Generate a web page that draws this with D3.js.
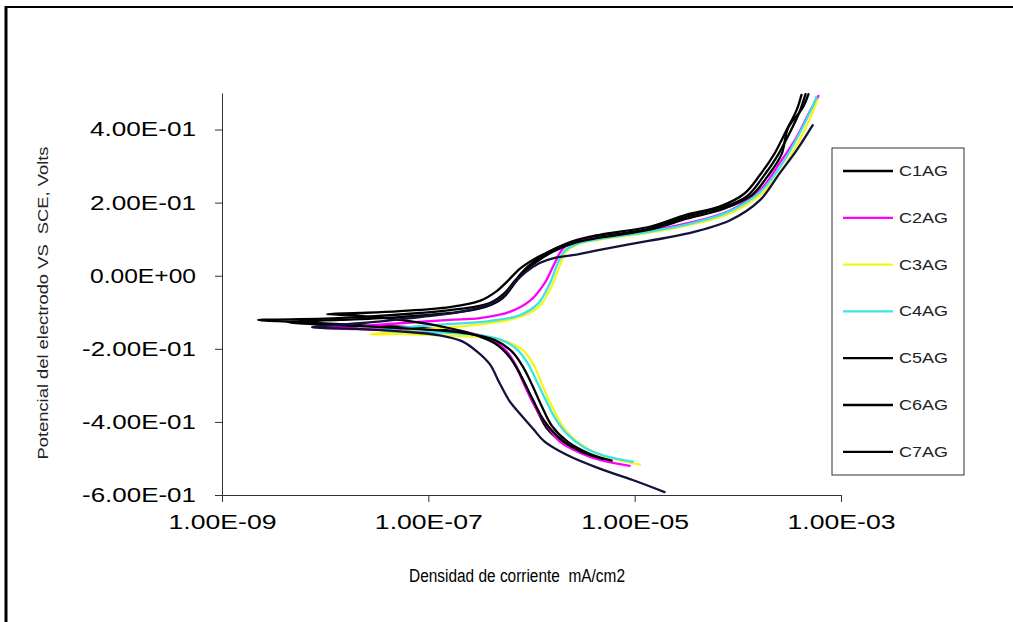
<!DOCTYPE html>
<html>
<head>
<meta charset="utf-8">
<script src="https://cdn.jsdelivr.net/npm/d3@7"></script>
<style>
  html, body { margin: 0; background: #fff; overflow: hidden; }
  svg { display: block; font-family: Arial, "Liberation Sans", sans-serif; }
</style>
</head>
<body>
<svg id="chart" width="1013" height="622"></svg>
<script>
// series names and line colours
const seriesNames = ["C1AG", "C2AG", "C3AG", "C4AG", "C5AG", "C6AG", "C7AG"];
const seriesColors = ["#000000", "#ff00ff", "#f5f51e", "#3de3e3", "#000000", "#000000", "#12123a"];

// axis ticks
const xTicks = [1e-9, 1e-7, 1e-5, 1e-3];
const yTicks = [-0.6, -0.4, -0.2, 0, 0.2, 0.4];

// [current density mA/cm2, potential V]  cathodic branch -> Ecorr -> anodic branch
const c1ag = [
    [5.36e-6, -0.504], [3.28e-6, -0.487], [2.10e-6, -0.460], [1.44e-6, -0.421], [1.15e-6, -0.372],
    [9.20e-7, -0.317], [7.36e-7, -0.256], [5.64e-7, -0.207], [3.77e-7, -0.174], [2.02e-7, -0.154],
    [8.28e-8, -0.143], [2.17e-8, -0.135], [5.69e-9, -0.127], [2.23e-9, -0.121],
    [5.69e-9, -0.119], [2.17e-8, -0.113], [8.28e-8, -0.102], [2.02e-7, -0.091], [3.94e-7, -0.075],
    [5.51e-7, -0.047], [6.89e-7, -0.014], [8.99e-7, 0.022], [1.20e-6, 0.049], [1.68e-6, 0.074],
    [2.62e-6, 0.093], [4.58e-6, 0.107], [1.40e-5, 0.129], [3.19e-5, 0.162], [6.65e-5, 0.184],
    [1.22e-4, 0.217], [1.74e-4, 0.269], [2.37e-4, 0.324], [3.17e-4, 0.390], [3.96e-4, 0.448],
    [4.53e-4, 0.497]
];
const c2ag = [
    [8.95e-6, -0.520], [4.58e-6, -0.504], [2.93e-6, -0.484], [1.88e-6, -0.454], [1.44e-6, -0.413],
    [1.20e-6, -0.380], [9.62e-7, -0.330], [8.22e-7, -0.289], [6.89e-7, -0.240], [5.51e-7, -0.201],
    [3.94e-7, -0.171], [2.52e-7, -0.157], [1.29e-7, -0.152], [5.30e-8, -0.149], [2.17e-8, -0.146],
    [8.89e-9, -0.143],
    [2.17e-8, -0.138], [5.30e-8, -0.130], [1.61e-7, -0.121], [3.15e-7, -0.116], [6.15e-7, -0.099],
    [9.62e-7, -0.069], [1.34e-6, -0.020], [1.68e-6, 0.035], [2.01e-6, 0.074], [2.62e-6, 0.093],
    [4.58e-6, 0.104], [1.40e-5, 0.123], [3.19e-5, 0.143], [8.32e-5, 0.178], [1.63e-4, 0.233],
    [2.54e-4, 0.308], [3.71e-4, 0.379], [4.95e-4, 0.448], [6.05e-4, 0.492]
];
const c3ag = [
    [1.12e-5, -0.517], [5.73e-6, -0.498], [3.66e-6, -0.476], [2.45e-6, -0.441], [1.88e-6, -0.399],
    [1.50e-6, -0.344], [1.29e-6, -0.303], [1.03e-6, -0.240], [8.05e-7, -0.201], [5.51e-7, -0.179],
    [3.15e-7, -0.168], [1.29e-7, -0.163], [5.30e-8, -0.160], [2.71e-8, -0.160],
    [5.30e-8, -0.152], [1.61e-7, -0.141], [3.94e-7, -0.130], [7.69e-7, -0.113], [1.20e-6, -0.083],
    [1.57e-6, -0.028], [1.88e-6, 0.027], [2.19e-6, 0.068], [2.93e-6, 0.088], [4.58e-6, 0.099],
    [1.40e-5, 0.118], [3.19e-5, 0.137], [8.32e-5, 0.170], [1.63e-4, 0.220], [2.65e-4, 0.288],
    [3.96e-4, 0.371], [5.18e-4, 0.440], [5.92e-4, 0.481]
];
const c4ag = [
    [9.57e-6, -0.509], [5.12e-6, -0.493], [3.28e-6, -0.471], [2.19e-6, -0.432], [1.68e-6, -0.388],
    [1.37e-6, -0.339], [1.15e-6, -0.295], [9.20e-7, -0.240], [7.19e-7, -0.201], [4.93e-7, -0.174],
    [2.52e-7, -0.160], [1.03e-7, -0.154], [4.74e-8, -0.152], [3.60e-8, -0.150],
    [5.30e-8, -0.143], [1.61e-7, -0.132], [3.94e-7, -0.124], [7.69e-7, -0.108], [1.15e-6, -0.077],
    [1.50e-6, -0.022], [1.79e-6, 0.033], [2.10e-6, 0.068], [2.81e-6, 0.088], [4.58e-6, 0.101],
    [1.40e-5, 0.121], [3.19e-5, 0.140], [8.32e-5, 0.176], [1.63e-4, 0.228], [2.59e-4, 0.299],
    [3.79e-4, 0.379], [4.95e-4, 0.445], [5.79e-4, 0.489]
];
const c5ag = [
    [4.90e-6, -0.501], [3.07e-6, -0.482], [1.96e-6, -0.449], [1.34e-6, -0.399], [1.03e-6, -0.339],
    [8.05e-7, -0.278], [6.15e-7, -0.223], [4.41e-7, -0.185], [2.52e-7, -0.157], [1.29e-7, -0.138],
    [5.30e-8, -0.121], [2.17e-8, -0.110], [1.04e-8, -0.105],
    [2.17e-8, -0.102], [5.30e-8, -0.097], [1.61e-7, -0.086], [3.15e-7, -0.069], [4.60e-7, -0.042],
    [5.89e-7, -0.014], [7.69e-7, 0.019], [1.07e-6, 0.046], [1.61e-6, 0.071], [2.62e-6, 0.096],
    [4.58e-6, 0.112], [1.40e-5, 0.134], [3.19e-5, 0.167], [6.65e-5, 0.189], [1.16e-4, 0.225],
    [1.63e-4, 0.275], [2.22e-4, 0.330], [2.96e-4, 0.398], [3.71e-4, 0.453], [4.14e-4, 0.495]
];
const c6ag = [
    [5.98e-6, -0.506], [3.66e-6, -0.487], [2.24e-6, -0.454], [1.57e-6, -0.410], [1.26e-6, -0.358],
    [1.03e-6, -0.303], [8.22e-7, -0.248], [6.44e-7, -0.207], [4.41e-7, -0.176], [2.25e-7, -0.157],
    [8.28e-8, -0.146], [2.17e-8, -0.138], [4.36e-9, -0.127],
    [1.39e-8, -0.121], [5.30e-8, -0.113], [1.61e-7, -0.102], [3.52e-7, -0.086], [5.27e-7, -0.061],
    [6.58e-7, -0.028], [8.22e-7, 0.008], [1.12e-6, 0.038], [1.61e-6, 0.066], [2.62e-6, 0.090],
    [4.58e-6, 0.104], [1.40e-5, 0.126], [3.19e-5, 0.156], [7.45e-5, 0.184], [1.36e-4, 0.220],
    [1.94e-4, 0.272], [2.65e-4, 0.332], [3.07e-4, 0.404], [4.24e-4, 0.459], [4.84e-4, 0.497]
];
const c7ag = [
    [1.95e-5, -0.592], [9.57e-6, -0.559], [4.58e-6, -0.528], [2.19e-6, -0.490], [1.34e-6, -0.454],
    [1.03e-6, -0.418], [7.69e-7, -0.377], [6.15e-7, -0.344], [4.93e-7, -0.295], [3.94e-7, -0.242],
    [2.95e-7, -0.207], [2.11e-7, -0.179], [1.29e-7, -0.163], [5.30e-8, -0.152], [2.17e-8, -0.146],
    [7.45e-9, -0.141],
    [2.17e-8, -0.130], [8.28e-8, -0.113], [2.52e-7, -0.094], [4.93e-7, -0.064], [6.44e-7, -0.028],
    [8.61e-7, 0.008], [1.20e-6, 0.035], [1.68e-6, 0.049], [2.62e-6, 0.057], [4.58e-6, 0.071],
    [1.40e-5, 0.096], [3.19e-5, 0.115], [8.32e-5, 0.151], [1.63e-4, 0.206], [2.54e-4, 0.280],
    [3.71e-4, 0.343], [5.32e-4, 0.412]
];
const seriesData = [c1ag, c2ag, c3ag, c4ag, c5ag, c6ag, c7ag];

// Excel style scientific labels, e.g. 4.00E-01
function sci(v) {
    if (v === 0) return "0.00E+00";
    let e = Math.floor(Math.log10(Math.abs(v)) + 1e-9);
    let m = v / Math.pow(10, e);
    return m.toFixed(2) + "E" + (e < 0 ? "-" : "+") + String(Math.abs(e)).padStart(2, "0");
}

const svg = d3.select("#chart");

// outer frame (only top and left edges show)
svg.append("line").attr("x1", 5).attr("y1", 7).attr("x2", 1013).attr("y2", 7)
    .attr("stroke", "#000").attr("stroke-width", 2);
svg.append("line").attr("x1", 6).attr("y1", 6).attr("x2", 6).attr("y2", 622)
    .attr("stroke", "#000").attr("stroke-width", 3);

const x = d3.scaleLog().domain([1e-9, 1e-3]).range([222, 841]);
const y = d3.scaleLinear().domain([-0.6, 0.5]).range([495, 93]);

// x axis
const xAxis = svg.append("g")
    .attr("transform", "translate(0," + y(-0.6) + ")")
    .call(d3.axisBottom(x).tickValues(xTicks).tickFormat(sci).tickSize(7).tickSizeOuter(0).tickPadding(13));
xAxis.select(".domain").attr("stroke", "#333");
xAxis.selectAll(".tick line").attr("stroke", "#333");
xAxis.selectAll("text")
    .attr("font-size", 20).attr("fill", "#000")
    .attr("font-family", "Arial, 'Liberation Sans', sans-serif")
    .attr("textLength", 108).attr("lengthAdjust", "spacingAndGlyphs");

// y axis
const yAxis = svg.append("g")
    .attr("transform", "translate(" + x(1e-9) + ",0)")
    .call(d3.axisLeft(y).tickValues(yTicks).tickFormat(sci).tickSize(7).tickSizeOuter(0).tickPadding(19));
yAxis.select(".domain").attr("stroke", "#333");
yAxis.selectAll(".tick line").attr("stroke", "#333");
yAxis.selectAll("text")
    .attr("font-size", 20).attr("fill", "#000")
    .attr("font-family", "Arial, 'Liberation Sans', sans-serif")
    .attr("textLength", d => d < 0 ? 114 : 106).attr("lengthAdjust", "spacingAndGlyphs");

// curves
const line = d3.line()
    .x(d => x(d[0]))
    .y(d => y(d[1]))
    .curve(d3.curveCatmullRom.alpha(0.5));

svg.append("g")
    .selectAll("path")
    .data(seriesData)
    .join("path")
    .attr("d", line)
    .attr("fill", "none")
    .attr("stroke", (d, i) => seriesColors[i])
    .attr("stroke-width", 2.3)
    .attr("stroke-linejoin", "round")
    .attr("stroke-linecap", "round");

// axis titles
svg.append("text")
    .attr("x", 517).attr("y", 582)
    .attr("text-anchor", "middle")
    .attr("font-size", 18)
    .style("white-space", "pre")
    .attr("textLength", 216).attr("lengthAdjust", "spacingAndGlyphs")
    .text("Densidad de corriente  mA/cm2");

svg.append("text")
    .attr("transform", "translate(48,303) rotate(-90)")
    .attr("text-anchor", "middle")
    .attr("font-size", 15)
    .attr("fill", "#222")
    .style("white-space", "pre")
    .attr("textLength", 313).attr("lengthAdjust", "spacingAndGlyphs")
    .text("Potencial del electrodo VS  SCE, Volts");

// legend
const legend = svg.append("g").attr("transform", "translate(832,148)");
legend.append("rect")
    .attr("width", 132).attr("height", 327)
    .attr("fill", "#fff").attr("stroke", "#333").attr("stroke-width", 1);

const item = legend.selectAll("g.item")
    .data(seriesNames)
    .join("g")
    .attr("class", "item")
    .attr("transform", (d, i) => "translate(0," + (23 + i * 46.8) + ")");
item.append("line")
    .attr("x1", 11).attr("x2", 61)
    .attr("stroke", (d, i) => seriesColors[i] === "#12123a" ? "#000" : seriesColors[i])
    .attr("stroke-width", 2.3);
item.append("text")
    .attr("x", 67).attr("dy", "0.35em")
    .attr("font-size", 14)
    .attr("fill", "#222")
    .attr("textLength", 49).attr("lengthAdjust", "spacingAndGlyphs")
    .text(d => d);
</script>
</body>
</html>
